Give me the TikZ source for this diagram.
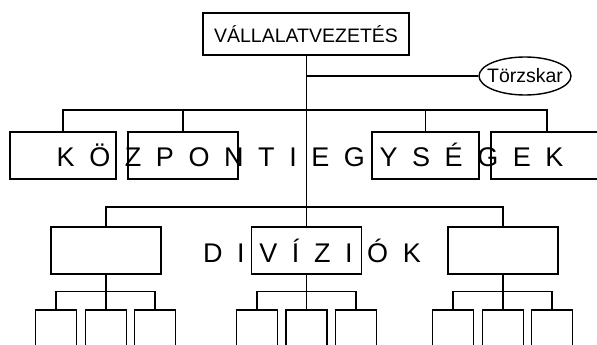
\documentclass[tikz,border=0pt]{standalone}
\usepackage{fontspec}
\setmainfont{Liberation Sans}
\usepackage{tikz}
\usetikzlibrary{shapes.geometric}

\begin{document}
\begin{tikzpicture}[x=1pt, y=-1pt,
    box/.style={draw, line width=1.6pt, inner sep=0pt, minimum height=47pt},
    subbox/.style={draw, line width=1.6pt, inner sep=0pt, minimum width=41pt, minimum height=50pt},
    conn/.style={line width=1.2pt},
    spread/.style={inner sep=0pt, anchor=base west, font=\fontsize{27}{27}\selectfont\addfontfeature{LetterSpace=54}}]
    \path[use as bounding box, clip] (0,0) rectangle (597,345);
    % vezetes and staff
    \node[draw, line width=1.7pt, minimum width=206pt, minimum height=42pt, font=\fontsize{19.5}{19.5}\selectfont] (vez) at (306,34) {VÁLLALATVEZETÉS};
    \node[draw, ellipse, line width=1.4pt, inner sep=0pt, minimum width=92pt, minimum height=38pt, font=\fontsize{19.5}{19.5}\selectfont] (torzs) at (525,76) {\makebox[0pt]{Törzskar}};
    % kozponti egysegek
    \node[box, minimum width=106pt] (k1) at (63,155.5) {};
    \node[box, minimum width=110pt] (k2) at (183,155.5) {};
    \node[box, minimum width=107pt] (k3) at (425.5,155.5) {};
    \node[box, minimum width=112pt] (k4) at (547,155.5) {};
    % diviziok
    \node[box, minimum width=110pt] (d1) at (106,250.5) {};
    \node[box, minimum width=110pt] (d2) at (306.5,250.5) {};
    \node[box, minimum width=110pt] (d3) at (503,250.5) {};
    \node[subbox] (s11) at (56,335) {};
    \node[subbox] (s12) at (106,335) {};
    \node[subbox] (s13) at (155,335) {};
    \node[subbox] (s21) at (257,335) {};
    \node[subbox] (s22) at (306.5,335) {};
    \node[subbox] (s23) at (356,335) {};
    \node[subbox] (s31) at (453,335) {};
    \node[subbox] (s32) at (503,335) {};
    \node[subbox] (s33) at (552,335) {};
    % connectors
    \coordinate (kbar) at (306,110);
    \coordinate (dbar) at (306,207);
    \draw[line width=0.9pt] (vez.south) -- (vez.south |- d2.north);
    \draw[conn] (vez.south |- torzs.west) -- (torzs.west);
    \draw[conn] (k1.north) |- (kbar) -| (k4.north);
    \draw[conn] (k2.north) -- (k2.north |- kbar);
    \draw[conn] (k3.north) -- (k3.north |- kbar);
    \draw[conn] (d1.north) |- (dbar) -| (d3.north);
    \draw[conn] (d1.south) -- (s12.north);
    \draw[conn] (s11.north) -- ++(0,-18) -| (s13.north);
    \draw[conn] (d2.south) -- (s22.north);
    \draw[conn] (s21.north) -- ++(0,-18) -| (s23.north);
    \draw[conn] (d3.south) -- (s32.north);
    \draw[conn] (s31.north) -- ++(0,-18) -| (s33.north);
    % spread labels
    \node[spread] (ktext) at (56.5,166) {KÖZPONTIEGYSÉGEK};
    \node[spread] (dtext) at (203,262) {DIVÍZIÓK};
\end{tikzpicture}
\end{document}
